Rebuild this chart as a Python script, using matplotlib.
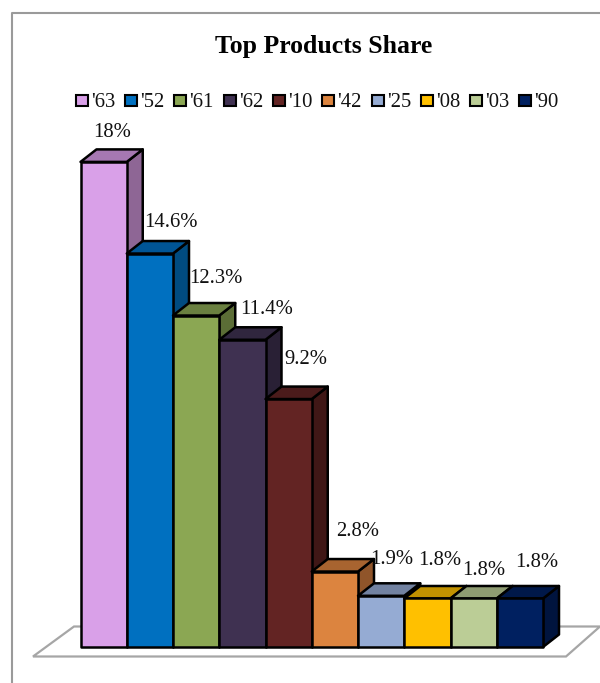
import matplotlib
matplotlib.use("Agg")
import matplotlib.pyplot as plt
from matplotlib.patches import Polygon, Rectangle
from matplotlib.lines import Line2D

# Chart data
labels = ["'63", "'52", "'61", "'62", "'10", "'42", "'25", "'08", "'03", "'90"]
shares = [18, 14.6, 12.3, 11.4, 9.2, 2.8, 1.9, 1.8, 1.8, 1.8]
value_labels = ["18%", "14.6%", "12.3%", "11.4%", "9.2%", "2.8%", "1.9%", "1.8%", "1.8%", "1.8%"]
front_colors = ["#D9A0E8", "#0070C0", "#8BA753", "#3F3151", "#632423",
                "#DC843F", "#95ABD3", "#FFC000", "#BBCD96", "#002060"]
top_colors = ["#A678B2", "#005596", "#6A8040", "#30263E", "#4B1B1B",
              "#A86430", "#7282A1", "#C29200", "#8F9C72", "#001849"]
side_colors = ["#8E6695", "#004B80", "#5B6D36", "#292035", "#401716",
               "#90552A", "#62708B", "#A67D00", "#7A8662", "#00143E"]

W, H = 600, 683
plt.rcParams["font.family"] = ["Liberation Serif", "DejaVu Serif"]

fig = plt.figure(figsize=(W / 100, H / 100), dpi=100, facecolor="white")

# Axes spanning the figure: x counts bars, y is share in percent
x0_px, bar_px = 80.5, 46.25
y0_px, unit_px = 647.0, 26.95
ax = fig.add_axes([0, 0, 1, 1])
ax.set_xlim(-x0_px / bar_px, (W - x0_px) / bar_px)
ax.set_ylim((y0_px - H) / unit_px, y0_px / unit_px)
ax.axis("off")

px_x = lambda p: (p - x0_px) / bar_px
px_y = lambda p: (y0_px - p) / unit_px
dx = 16 / bar_px          # oblique depth of a bar
dy = 12.5 / unit_px

# Chart frame
frame = Line2D([px_x(11.5), px_x(11.5), px_x(600)], [px_y(683), px_y(12.5), px_y(12.5)],
               color="#9A9A9A", lw=1.5, zorder=1)
ax.add_line(frame)

# Floor plate
floor = Polygon([(px_x(33), px_y(656.5)), (px_x(74), px_y(626.5)),
                 (px_x(600), px_y(626.5)), (px_x(566), px_y(656.5))],
                closed=True, facecolor="white", edgecolor="#A6A6A6", lw=1.6, zorder=2)
ax.add_patch(floor)

# Bars, drawn left to right so each front overlaps the previous side wall
edge = dict(edgecolor="black", lw=1.8, joinstyle="round")
for i, v in enumerate(shares):
    z = 3 + i
    ax.add_patch(Polygon([(i + 1, 0), (i + 1 + dx, dy), (i + 1 + dx, v + dy), (i + 1, v)],
                         facecolor=side_colors[i], zorder=z, **edge))
    ax.add_patch(Polygon([(i, v), (i + dx, v + dy), (i + 1 + dx, v + dy), (i + 1, v)],
                         facecolor=top_colors[i], zorder=z, **edge))
    ax.add_patch(Rectangle((i, 0), 1, v, facecolor=front_colors[i], zorder=z + 0.5, **edge))

# Value labels, anchored on their text baselines
label_px = [(112, 137), (171, 227), (216, 283), (267, 314), (306, 364),
            (358, 536), (392, 564), (440, 565), (484, 575), (537, 567)]
for (lx, ly), text in zip(label_px, value_labels):
    ax.text(px_x(lx), px_y(ly), text, fontsize=14.9, ha="center", va="baseline",
            color="#111111", zorder=20)

# Title
ax.text(px_x(324), px_y(53), "Top Products Share", fontsize=18.5, fontweight="bold",
        ha="center", va="baseline", color="black", zorder=20)

# Legend row
legend_x = [76, 125, 174, 224, 273, 322, 372, 421, 470, 519]
for lx, name, color in zip(legend_x, labels, front_colors):
    ax.add_patch(Rectangle((px_x(lx), px_y(106)), 12 / bar_px, 11 / unit_px,
                           facecolor=color, edgecolor="black", lw=1.5, zorder=20))
    ax.text(px_x(lx + 15.5), px_y(107), name, fontsize=14.9, ha="left", va="baseline",
            color="#111111", zorder=20)

fig.savefig("out.png", dpi=100, facecolor="white")
